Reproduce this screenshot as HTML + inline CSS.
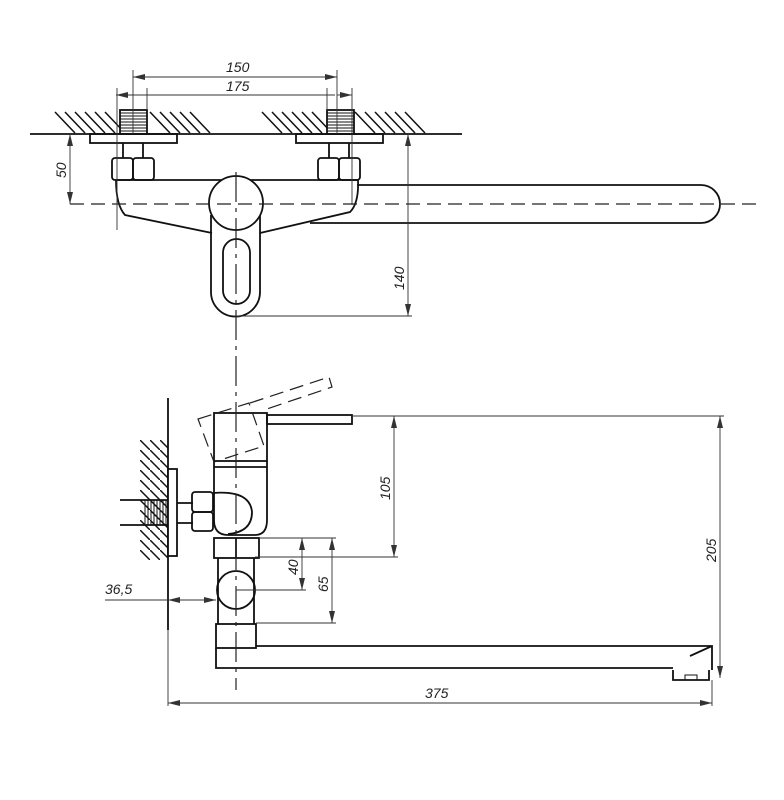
<!DOCTYPE html>
<html><head><style>body{margin:0;background:#fff}svg{display:block}text{font-family:"Liberation Sans",sans-serif;font-style:italic;font-size:14px;fill:#222}</style></head><body>
<svg width="784" height="800" viewBox="0 0 784 800" xmlns="http://www.w3.org/2000/svg">
<defs>
<marker id="a" viewBox="0 0 12 6" refX="12" refY="3" markerWidth="12" markerHeight="6" orient="auto-start-reverse" markerUnits="userSpaceOnUse"><path d="M0,0 L12,3 L0,6 z" fill="#333"/></marker>
<pattern id="h" width="10" height="10" patternUnits="userSpaceOnUse"><path d="M-2,-2 L12,12" stroke="#111" stroke-width="1.5"/></pattern>
</defs>
<g fill="none" stroke="#111" stroke-width="1.8">
<!-- TOP VIEW -->
<line x1="30" y1="134" x2="462" y2="134"/>
<g stroke-width="1.5">
<path d="M55,112 l20,21 M65,112 l20,21 M75,112 l20,21 M85,112 l20,21 M95,112 l20,21 M105,112 l20,21 M150,112 l20,21 M160,112 l20,21 M170,112 l20,21 M180,112 l20,21 M190,112 l20,21"/>
<path d="M262,112 l20,21 M272,112 l20,21 M282,112 l20,21 M292,112 l20,21 M302,112 l20,21 M312,112 l20,21 M355,112 l20,21 M365,112 l20,21 M375,112 l20,21 M385,112 l20,21 M395,112 l20,21 M405,112 l20,21"/>
</g>
<rect x="120" y="110" width="27" height="24" fill="#fff"/>
<rect x="327" y="110" width="27" height="24" fill="#fff"/>
<g stroke-width="1"><path d="M120,113h27M120,116h27M120,119h27M120,122h27M120,125h27M120,128h27M120,131h27M327,113h27M327,116h27M327,119h27M327,122h27M327,125h27M327,128h27M327,131h27"/></g>
<rect x="90" y="134" width="87" height="9"/><rect x="296" y="134" width="87" height="9"/>
<path d="M123,143v15M143,143v15M329,143v15M349,143v15"/>
<rect x="112" y="158" width="21" height="22" rx="3"/><rect x="133" y="158" width="21" height="22" rx="3"/>
<rect x="318" y="158" width="21" height="22" rx="3"/><rect x="339" y="158" width="21" height="22" rx="3"/>
<path d="M116,180 H357 M116,180 Q116,205 125,215 L212,233 M358,180 Q359,203 350,212 L260,233"/>
<path d="M357,185 H701 A19,19 0 0 1 701,223 H310"/>
<path d="M211,215 V292 A24.5,24.5 0 0 0 260,292 V215"/>
<circle cx="236" cy="203" r="27" fill="#fff"/>
<rect x="223" y="239" width="27" height="65" rx="13.5"/>
<!-- SIDE VIEW -->
<line x1="168" y1="398" x2="168" y2="630"/>
<rect x="140" y="440" width="28" height="120" fill="url(#h)" stroke="none"/>
<rect x="168" y="469" width="9" height="87" fill="#fff"/>
<path d="M120,500H168M120,525H168"/>
<g stroke-width="1"><path d="M145,500v25M148,500v25M151,500v25M154,500v25M157,500v25M160,500v25M163,500v25M166,500v25"/></g>
<path d="M177,503H193M177,523H193"/>
<rect x="192" y="492" width="21" height="20" rx="3"/><rect x="192" y="512" width="21" height="19" rx="3"/>
<rect x="214" y="413" width="53" height="48"/>
<path d="M214,461 V520 Q214,535 228,535 H255 Q267,535 267,520 V461 M214,467 H267"/>
<path d="M213,493 Q250,490 252,512 Q252,532 228,534"/>
<rect x="267" y="415" width="85" height="9"/>
<rect x="214" y="538" width="45" height="20"/><line x1="236" y1="538" x2="236" y2="558"/>
<path d="M218,558V624M254,558V624"/>
<circle cx="236" cy="590" r="19"/>
<rect x="216" y="624" width="40" height="24"/>
<path d="M216,648 V668 H673 M256,646 H712 V670 M673,670 V680 H709 V670 M690,656 L712,646"/>
<rect x="685" y="675" width="12" height="5" stroke-width="1"/>
</g>
<!-- dashed -->
<g fill="none" stroke="#222" stroke-width="1.2" stroke-dasharray="14,7">
<line x1="70" y1="204" x2="762" y2="204"/>
<line x1="236" y1="172" x2="236" y2="690" stroke-dasharray="30,6,4,6"/>
<path d="M198,419 L249,403 L264,446 L214,462 Z"/>
<path d="M250,403 L329,377 L332,387 L264,410"/>
</g>
<!-- dimension lines -->
<g fill="none" stroke="#333" stroke-width="0.9">
<line x1="133" y1="77" x2="337" y2="77" marker-start="url(#a)" marker-end="url(#a)"/>
<line x1="116" y1="95" x2="133" y2="95" marker-start="url(#a)"/><line x1="133" y1="95" x2="335" y2="95"/><line x1="337" y1="95" x2="352" y2="95" marker-end="url(#a)"/>
<path d="M117,88V230M147,88V110M327,88V110M352,88V205M133,70V134M337,70V134"/>
<line x1="70" y1="134" x2="70" y2="204" marker-start="url(#a)" marker-end="url(#a)"/>
<line x1="408" y1="134" x2="408" y2="316" marker-start="url(#a)" marker-end="url(#a)"/>
<path d="M236,316H412M352,416H724M255,557H398M259,538H336M236,590H306M256,623H336M712,680V706M168,630V706"/>
<line x1="394" y1="416" x2="394" y2="557" marker-start="url(#a)" marker-end="url(#a)"/>
<line x1="720" y1="416" x2="720" y2="678" marker-start="url(#a)" marker-end="url(#a)"/>
<line x1="302" y1="538" x2="302" y2="590" marker-start="url(#a)" marker-end="url(#a)"/>
<line x1="332" y1="538" x2="332" y2="623" marker-start="url(#a)" marker-end="url(#a)"/>
<line x1="105" y1="600" x2="168" y2="600"/>
<line x1="168" y1="600" x2="216" y2="600" marker-start="url(#a)" marker-end="url(#a)"/>
<line x1="168" y1="703" x2="712" y2="703" marker-start="url(#a)" marker-end="url(#a)"/>
</g>
<text x="226" y="72">150</text>
<text x="226" y="91">175</text>
<text transform="translate(66,178) rotate(-90)">50</text>
<text transform="translate(404,290) rotate(-90)">140</text>
<text transform="translate(390,500) rotate(-90)">105</text>
<text transform="translate(716,562) rotate(-90)">205</text>
<text transform="translate(298,575) rotate(-90)">40</text>
<text transform="translate(328,592) rotate(-90)">65</text>
<text x="105" y="594">36,5</text>
<text x="425" y="698">375</text>
</svg>
</body></html>
